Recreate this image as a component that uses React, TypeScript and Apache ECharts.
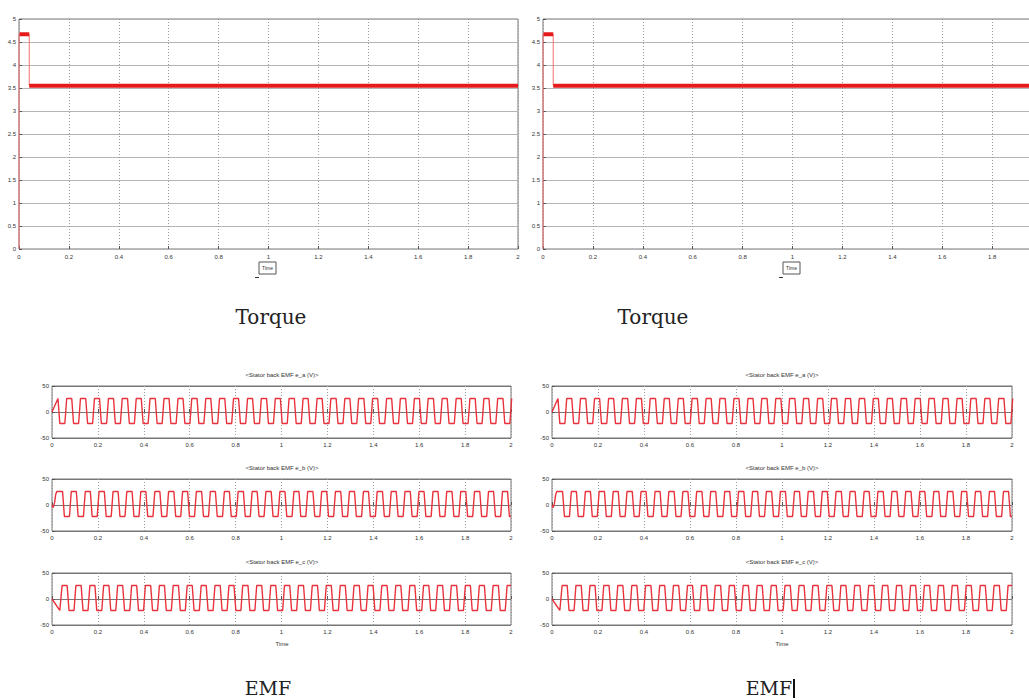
import React, { useEffect, useRef } from "react";
import * as echarts from "echarts";

// ---------- data ----------
// Torque (N·m) vs time (s)
const torqueTimes = [0, 0, 0.041, 0.041, 2];
const torqueValues = [0, 4.67, 4.67, 3.55, 3.55];
const torqueStartLevel = 4.67;
const torqueSteadyLevel = 3.55;
const torqueStepTime = 0.041;

// EMF (V): plateau levels and transition times
const emfHigh = 26;
const emfLow = -22;
const emfEdgeWidth = 0.008;

const eaStart: number[][] = [[0, 0], [0.024, 24]];
const eaFirstRise = false;
const eaEdges = [
  0.030, 0.060, 0.090, 0.120, 0.151, 0.181, 0.211, 0.242, 0.272, 0.302, 0.333, 0.363, 0.393, 0.423, 0.454, 0.484,
  0.514, 0.545, 0.575, 0.605, 0.636, 0.666, 0.696, 0.726, 0.757, 0.787, 0.817, 0.848, 0.878, 0.908, 0.939, 0.969,
  0.999, 1.029, 1.060, 1.090, 1.120, 1.151, 1.181, 1.211, 1.242, 1.272, 1.302, 1.332, 1.363, 1.393, 1.423, 1.454,
  1.484, 1.514, 1.545, 1.575, 1.605, 1.635, 1.666, 1.696, 1.726, 1.757, 1.787, 1.817, 1.848, 1.878, 1.908, 1.938,
  1.969, 1.999,
];

const ebStart: number[][] = [[0, 0], [0.005, -5], [0.011, 4], [0.016, 20], [0.021, 26]];
const ebFirstRise = false;
const ebEdges = [
  0.050, 0.080, 0.110, 0.141, 0.171, 0.201, 0.232, 0.262, 0.292, 0.322, 0.353, 0.383, 0.413, 0.444, 0.474, 0.504,
  0.535, 0.565, 0.595, 0.625, 0.656, 0.686, 0.716, 0.747, 0.777, 0.807, 0.838, 0.868, 0.898, 0.928, 0.959, 0.989,
  1.019, 1.050, 1.080, 1.110, 1.141, 1.171, 1.201, 1.231, 1.262, 1.292, 1.322, 1.353, 1.383, 1.413, 1.444, 1.474,
  1.504, 1.534, 1.565, 1.595, 1.625, 1.656, 1.686, 1.716, 1.747, 1.777, 1.807, 1.837, 1.868, 1.898, 1.928, 1.959,
  1.989,
];

const ecStart: number[][] = [[0, 0], [0.034, -22]];
const ecFirstRise = true;
const ecEdges = [
  0.040, 0.070, 0.100, 0.131, 0.161, 0.191, 0.221, 0.252, 0.282, 0.312, 0.343, 0.373, 0.403, 0.434, 0.464, 0.494,
  0.524, 0.555, 0.585, 0.615, 0.646, 0.676, 0.706, 0.737, 0.767, 0.797, 0.827, 0.858, 0.888, 0.918, 0.949, 0.979,
  1.009, 1.040, 1.070, 1.100, 1.130, 1.161, 1.191, 1.221, 1.252, 1.282, 1.312, 1.343, 1.373, 1.403, 1.433, 1.464,
  1.494, 1.524, 1.555, 1.585, 1.615, 1.646, 1.676, 1.706, 1.736, 1.767, 1.797, 1.827, 1.858, 1.888, 1.918, 1.949,
  1.979,
];

const emfTitles = ["<Stator back EMF e_a (V)>", "<Stator back EMF e_b (V)>", "<Stator back EMF e_c (V)>"];
const panelLabels = ["Torque", "EMF"];
const timeLabel = "Time";

// ---------- helpers ----------
function buildEmf(start: number[][], edges: number[], firstRise: boolean) {
  const pts: number[][] = start.map((p) => [p[0], p[1]]);
  let high = !firstRise;
  for (const te of edges) {
    const from = high ? emfHigh : emfLow;
    const to = high ? emfLow : emfHigh;
    pts.push([te - emfEdgeWidth / 2, from], [te + emfEdgeWidth / 2, to]);
    high = !high;
  }
  pts.push([2, high ? emfHigh : emfLow]);
  return pts;
}

const torqueThin = torqueTimes.map((t, i) => [t, torqueValues[i]]);
const torqueThick: (number[] | string)[] = [
  [0.002, torqueStartLevel],
  [torqueStepTime, torqueStartLevel],
  "-",
  [torqueStepTime, torqueSteadyLevel],
  [2, torqueSteadyLevel],
];
const emfSeries = [
  buildEmf(eaStart, eaEdges, eaFirstRise),
  buildEmf(ebStart, ebEdges, ebFirstRise),
  buildEmf(ecStart, ecEdges, ecFirstRise),
];

const tickFont = { fontSize: 6, color: "#333", fontFamily: "Liberation Sans" };
const fmt = (v: number) => String(+v.toFixed(2));

function xAxis(gridIndex: number, margin: number, showMax = true) {
  return {
    type: "value",
    gridIndex,
    min: 0,
    max: 2,
    interval: 0.2,
    axisLine: { show: false },
    axisTick: { show: true, inside: true, length: 3, lineStyle: { color: "#555" } },
    axisLabel: { ...tickFont, margin, formatter: fmt, showMaxLabel: showMax },
    splitLine: { show: true, lineStyle: { color: "#9a9a9a", type: [1, 2], width: 1 } },
  };
}

function yAxis(gridIndex: number, min: number, max: number, interval: number, gridColor: string) {
  return {
    type: "value",
    gridIndex,
    min,
    max,
    interval,
    axisLine: { show: false },
    axisTick: { show: true, inside: true, length: 3, lineStyle: { color: "#555" } },
    axisLabel: { ...tickFont, margin: 3, formatter: fmt },
    splitLine: { show: true, lineStyle: { color: gridColor, width: 1 } },
  };
}

export default function App() {
  const ref = useRef<HTMLDivElement>(null);
  useEffect(() => {
    const chart = echarts.init(ref.current!, null, { renderer: "svg" });

    const grids: any[] = [
      { left: 19, top: 19, width: 499, height: 230 },
      { left: 543, top: 19, width: 499, height: 230 },
    ];
    const emfLefts = [52, 552];
    const emfWidths = [459, 460];
    const emfTops = [386, 479, 573];
    emfLefts.forEach((l, pi) => {
      emfTops.forEach((t) => grids.push({ left: l, top: t, width: emfWidths[pi], height: 52 }));
    });
    grids.forEach((g) => {
      g.show = true;
      g.borderColor = "#777";
      g.borderWidth = 1;
      g.backgroundColor = "#fff";
      g.containLabel = false;
    });

    const xAxes: any[] = [];
    const yAxes: any[] = [];
    const series: any[] = [];

    [0, 1].forEach((gi) => {
      xAxes.push(xAxis(gi, 5, gi === 0));
      yAxes.push(yAxis(gi, 0, 5, 0.5, "#b4b4b4"));
      series.push({
        type: "line",
        xAxisIndex: gi,
        yAxisIndex: gi,
        data: torqueThin,
        showSymbol: false,
        symbol: "none",
        lineStyle: { color: "#f07070", width: 1 },
        z: 3,
      });
      series.push({
        type: "line",
        xAxisIndex: gi,
        yAxisIndex: gi,
        data: torqueThick,
        showSymbol: false,
        symbol: "none",
        connectNulls: false,
        lineStyle: { color: "#e41a1c", width: 4 },
        z: 4,
      });
    });

    for (let gi = 2; gi < 8; gi++) {
      const k = (gi - 2) % 3;
      xAxes.push(xAxis(gi, 4));
      yAxes.push(yAxis(gi, -50, 50, 50, "#777"));
      series.push({
        type: "line",
        xAxisIndex: gi,
        yAxisIndex: gi,
        data: emfSeries[k],
        showSymbol: false,
        symbol: "none",
        lineStyle: { color: "#e8323c", width: 1.4 },
        z: 3,
      });
    }

    const graphic: any[] = [];
    // Time boxes on torque plots
    [19, 543].forEach((gl) => {
      graphic.push({
        type: "rect",
        shape: { x: gl + 240, y: 262, width: 17, height: 12 },
        style: { fill: "#fff", stroke: "#555", lineWidth: 1 },
      });
      graphic.push({
        type: "text",
        x: gl + 248.5,
        y: 268,
        style: { text: timeLabel, font: '5px "Liberation Sans"', fill: "#333", align: "center", verticalAlign: "middle" },
      });
      graphic.push({
        type: "line",
        shape: { x1: gl + 236, y1: 277.5, x2: gl + 240, y2: 277.5 },
        style: { stroke: "#333", lineWidth: 1 },
      });
    });
    // Torque captions
    [271, 653].forEach((cx) => {
      graphic.push({
        type: "text",
        x: cx,
        y: 317,
        style: { text: panelLabels[0], font: '20px "DejaVu Serif"', fill: "#222", align: "center", verticalAlign: "middle" },
      });
    });
    // EMF titles, Time labels, captions
    [282, 782].forEach((cx) => {
      emfTops.forEach((t, k) => {
        graphic.push({
          type: "text",
          x: cx,
          y: t - 11,
          style: { text: emfTitles[k], font: '6px "Liberation Sans"', fill: "#333", align: "center", verticalAlign: "middle" },
        });
      });
      graphic.push({
        type: "text",
        x: cx,
        y: 644,
        style: { text: timeLabel, font: '6px "Liberation Sans"', fill: "#333", align: "center", verticalAlign: "middle" },
      });
    });
    [268, 769].forEach((cx) => {
      graphic.push({
        type: "text",
        x: cx,
        y: 688,
        style: { text: panelLabels[1], font: '19px "DejaVu Serif"', fill: "#222", align: "center", verticalAlign: "middle" },
      });
    });
    graphic.push({
      type: "rect",
      shape: { x: 793, y: 679, width: 2, height: 19 },
      style: { fill: "#111" },
    });

    chart.setOption({
      animation: false,
      backgroundColor: "#fff",
      grid: grids,
      xAxis: xAxes,
      yAxis: yAxes,
      series,
      graphic,
    });
    return () => chart.dispose();
  }, []);
  return (
    <div
      ref={ref}
      style={{ position: "fixed", left: 0, top: 0, width: 1060, height: 700, background: "#fff" }}
    />
  );
}
